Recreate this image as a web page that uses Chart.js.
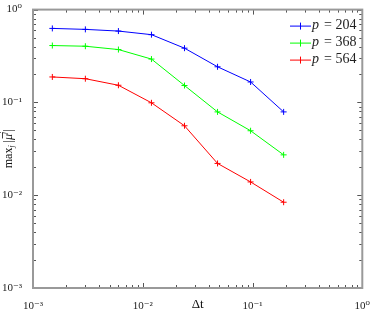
<!DOCTYPE html>
<html><head><meta charset="utf-8">
<script src="https://cdn.jsdelivr.net/npm/chart.js@4"></script>
<style>html,body{margin:0;padding:0;background:#fff}#wrap{width:374px;height:312px}</style>
</head><body><div id="wrap"><canvas id="c"></canvas></div>
<script>
// time steps and max |mu| per p
var dt=[0.0015,0.003,0.006,0.012,0.024,0.048,0.096,0.192];
var p204=[0.627,0.612,0.587,0.537,0.384,0.242,0.166,0.079];
var p368=[0.41,0.403,0.371,0.293,0.152,0.079,0.0495,0.0272];
var p564=[0.188,0.18,0.153,0.099,0.056,0.022,0.0139,0.0084];
var pNames=['204','368','564'];
var colors=['#0000ff','#00ff00','#ff0000'];
var decades=[1e-3,1e-2,1e-1,1];
var decadeLabels=['10⁻³','10⁻²','10⁻¹','10⁰'];
var serif='"Liberation Serif","DejaVu Serif",serif';

function pts(ys){return dt.map(function(x,i){return {x:x,y:ys[i]};});}
function ds(ys,i){return {label:pNames[i],data:pts(ys),borderColor:colors[i],backgroundColor:colors[i],borderWidth:1,pointStyle:'cross',pointRadius:3,pointBorderWidth:1,fill:false,tension:0};}

function majorTicks(scale){scale.ticks=decades.map(function(v){return {value:v,major:true};});}
function lbl(v){var i=decades.indexOf(v);return i<0?'':decadeLabels[i];}

// y axis title: max_j |mu-bar^j|, drawn piece by piece
function yTitle(c,cx,cy){
 var parts=[['max','12px',0],['j','italic 8px',3],[' |','12px',0],['μ','italic 12px',0],['j','italic 8px',-5],['|','12px',0]];
 var w=0;
 parts.forEach(function(p){c.font=p[1]+' '+serif;p.w=c.measureText(p[0]).width;w+=p.w;});
 c.save();c.translate(cx,cy);c.rotate(-Math.PI/2);
 c.fillStyle='#111';c.strokeStyle='#111';c.textBaseline='middle';c.textAlign='left';
 var x=-w/2;
 parts.forEach(function(p){
  c.font=p[1]+' '+serif;c.fillText(p[0],x,p[2]);
  if(p[0]==='μ'){c.lineWidth=0.8;c.beginPath();c.moveTo(x+1.5,-6.5);c.lineTo(x+p.w+1,-6.5);c.stroke();}
  x+=p.w;
 });
 c.restore();
}

var frame={
 id:'frame',
 afterDraw:function(ch){
  var c=ch.ctx,a=ch.chartArea,xs=ch.scales.x,ys=ch.scales.y;
  c.save();
  c.strokeStyle='#555';c.lineWidth=1;
  decades.forEach(function(d){
   for(var m=1;m<10;m++){
    var v=d*m; if(v>1.0001) break;
    var len=m===1?5:3;
    var px=Math.round(xs.getPixelForValue(v))+0.5, py=Math.round(ys.getPixelForValue(v))+0.5;
    c.beginPath();
    c.moveTo(px,a.bottom);c.lineTo(px,a.bottom-len);
    c.moveTo(px,a.top);c.lineTo(px,a.top+len);
    c.moveTo(a.left,py);c.lineTo(a.left+len,py);
    c.moveTo(a.right,py);c.lineTo(a.right-len,py);
    c.stroke();
   }
  });
  c.strokeStyle='#999';c.lineWidth=2;
  c.strokeRect(a.left,a.top,a.right-a.left,a.bottom-a.top);
  // legend inside the axes
  ch.data.datasets.forEach(function(d,i){
   var y=a.top+16+i*17;
   c.strokeStyle=d.borderColor;c.lineWidth=1;
   c.beginPath();c.moveTo(290,y+0.5);c.lineTo(311,y+0.5);
   c.moveTo(300.5,y-3);c.lineTo(300.5,y+4);c.stroke();
   c.fillStyle='#222';c.textBaseline='middle';c.textAlign='left';
   c.font='italic 14px '+serif;c.fillText('p',312,y);
   c.font='14px '+serif;c.fillText('= '+d.label,324,y);
  });
  yTitle(c,9,(a.top+a.bottom)/2);
  c.restore();
 }
};

new Chart(document.getElementById('c'),{
 type:'line',
 data:{datasets:[ds(p204,0),ds(p368,1),ds(p564,2)]},
 plugins:[frame],
 options:{
  responsive:true,maintainAspectRatio:false,animation:false,
  layout:{padding:{top:7,right:7,left:0,bottom:0}},
  plugins:{legend:{display:false},tooltip:{enabled:false}},
  scales:{
   x:{type:'logarithmic',min:1e-3,max:1,
    afterBuildTicks:majorTicks,afterFit:function(s){s.height=24;},
    grid:{display:false},border:{display:false},
    ticks:{autoSkip:false,maxRotation:0,padding:4,color:'#222',font:{family:serif,size:11},callback:lbl},
    title:{display:true,text:'Δt',color:'#111',font:{family:serif,size:13},padding:0}},
   y:{type:'logarithmic',min:1e-3,max:1,
    afterBuildTicks:majorTicks,afterFit:function(s){s.width=33;},
    grid:{display:false},border:{display:false},
    ticks:{autoSkip:false,padding:3,color:'#222',font:{family:serif,size:11},callback:lbl},
    title:{display:false}}
  }
 }
});
</script></body></html>
